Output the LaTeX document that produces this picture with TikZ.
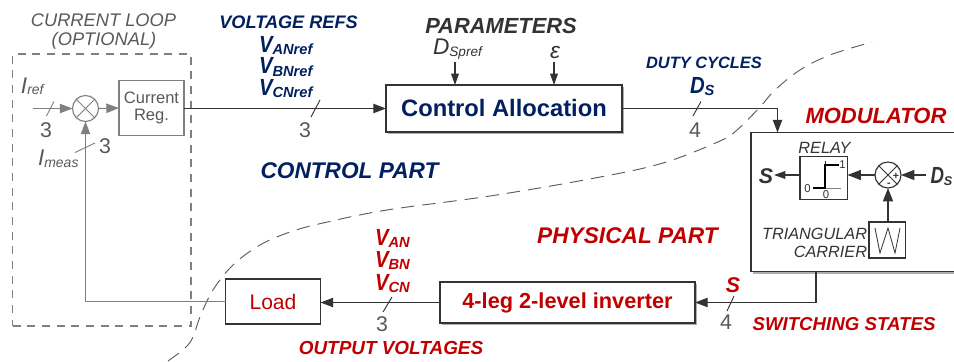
\documentclass[tikz,border=0pt]{standalone}
\usepackage{fontspec}
\usepackage{graphicx}
\setmainfont{Liberation Sans}
\usetikzlibrary{arrows.meta,shadows}
\definecolor{navy}{HTML}{002060}
\definecolor{dred}{HTML}{C00000}
\definecolor{loopgray}{HTML}{808080}
\definecolor{dark}{HTML}{333333}
\definecolor{midtext}{HTML}{595959}
\newdimen\px \px=0.75pt
\newcommand{\fs}[1]{\fontsize{#1pt}{#1pt}\selectfont}
\newcommand{\VS}[2]{\scalebox{.87}[1]{\fs{17.5}#1}\raisebox{-2.2pt}{\fs{11}#2}}
\tikzset{
  lab/.style={inner sep=0pt,outer sep=0pt,anchor=base},
  tip/.style={-{Triangle[length=9.5pt,width=7pt]}},
  tipsmall/.style={-{Triangle[length=8.5pt,width=5.8pt]}},
  tipmod/.style={-{Triangle[length=10pt,width=7.5pt]}},
  wire/.style={draw=dark,line width=.85pt},
  gwire/.style={draw=loopgray,line width=.85pt},
  tick/.style={line width=.7pt},
  blockbox/.style={draw=dark,fill=white,line width=.9pt,inner sep=0pt,outer sep=0pt,align=center},
  shadowbox/.style={blockbox,line width=1.1pt,drop shadow={shadow xshift=1.5pt,shadow yshift=-1.5pt,fill=black!45,opacity=.7}},
  sumj/.style={circle,draw=#1,fill=white,line width=.85pt,minimum size=26\px,inner sep=0pt,outer sep=0pt,
    path picture={\draw[#1,line width=.7pt]
      (path picture bounding box.north west)--(path picture bounding box.south east)
      (path picture bounding box.north east)--(path picture bounding box.south west);}},
}
\begin{document}
\begin{tikzpicture}[x=0.75pt,y=-0.75pt,>=Triangle]
\useasboundingbox (0,0) rectangle (954,361);
% boundary curve
\draw[dark!80,line width=.7pt,dash pattern=on 10pt off 6pt]
  plot[smooth,tension=.6] coordinates {(168,361)(185,348)(193,337)(200,317)(213,290)(233,265)(260,245)(290,232)(323,223)(387,210)(490,196)(595,178)(663,163)(720,141)(737,130)(760,107)(775,90)(800,70)(830,55)(872,42)};
% current loop frame
\node[draw=loopgray,dash pattern=on 6pt off 5pt,line width=.85pt,minimum width=178.5\px,minimum height=272\px,inner sep=0pt,outer sep=0pt] (frame) at (101.75,190) {};
% blocks
\node[sumj=loopgray] (sum1) at (85.5,108.5) {};
\node[blockbox,draw=loopgray,text=midtext,font=\fs{12.4},minimum width=65\px,minimum height=55\px] (reg) at (151.5,108) {Current\\[1pt]Reg.};
\node[shadowbox,font=\bfseries\fs{17.8},text=navy,minimum width=236\px,minimum height=47\px] (ca) at (504,108.5) {Control Allocation};
\node[shadowbox,minimum width=224\px,minimum height=139\px] (mod) at (863,202) {};
\node[shadowbox,font=\bfseries\fs{16.3},text=dred,minimum width=255\px,minimum height=41\px] (inv) at (567.5,302.5) {4-leg 2-level inverter};
\node[blockbox,font=\fs{15.8},text=dred,minimum width=95\px,minimum height=45\px] (load) at (273,301.5) {Load};
\node[blockbox,line width=.8pt,minimum width=47.5\px,minimum height=43\px] (relay) at (823.75,178) {};
\node[sumj=dark] (sum2) at (888,175) {};
\node[blockbox,line width=.8pt,minimum width=36.5\px,minimum height=36\px] (car) at (887.25,240) {};
% carrier wave and relay curve
\draw[dark,line width=.6pt] (875,228)--(880,253)--(888,228)--(895,253)--(900,228);
\draw[loopgray,line width=.7pt] (813,188)--(841,188);
\draw[dark,line width=.6pt] (825,188)--(825,161);
\draw[black,line width=1.3pt] (813,188)--(825,188)--(825,165)--(839,165);
\node[lab,font=\fs{8.5},text=dark] (r1) at (842.5,168) {1};
\node[lab,font=\fs{8.5},text=dark] (r0a) at (807.5,192) {0};
\node[lab,font=\fs{8.5},text=dark] (r0b) at (826,198) {0};
\node[lab,font=\bfseries\fs{8},text=dark] (plus) at (896,179) {+};
\node[lab,font=\bfseries\fs{8},text=dark] (minus) at (889,186) {-};
% free connector ends
\coordinate (irefin) at (33,108.5);
\coordinate (fbturn) at (85.5,301.5);
\coordinate (dutyturn) at (777.5,108.5);
\coordinate (sdown) at (816,302.5);
\coordinate (pdin) at (455,62);
\coordinate (pein) at (554,62);
\coordinate (dsin) at (926,175);
\coordinate (sout) at (774,175);
% connectors
\draw[gwire,tip] (irefin)--(sum1.west);
\draw[gwire,tip] (sum1.east)--(reg.west);
\draw[gwire,tip] (load.west |- fbturn)--(fbturn)--(sum1.south);
\draw[wire,tip] (reg.east |- ca.west)--(ca.west);
\draw[wire,tip] (ca.east)--(dutyturn)--(dutyturn |- mod.north);
\draw[wire,tip] (sdown |- mod.south)--(sdown)--(inv.east);
\draw[wire,tip] (inv.west)--(load.east |- inv.west);
\draw[wire,tipsmall] (pdin)--(pdin |- ca.north);
\draw[wire,tipsmall] (pein)--(pein |- ca.north);
\draw[wire,tipmod] (dsin)--(sum2.east);
\draw[wire,tipmod] (sum2.west)--(relay.east |- sum2);
\draw[wire,tipsmall] (relay.west |- sout)--(sout);
\draw[wire,tipmod] (car.north -| sum2)--(sum2.south);
% bus ticks
\draw[loopgray,tick] (46.5,116)--(54,101.5);
\draw[loopgray,tick] (75,152.5)--(95,143);
\draw[dark,tick] (311,117)--(320,100);
\draw[dark,tick] (693,116)--(701,101.5);
\draw[dark,tick] (727,311)--(734,296);
\draw[dark,tick] (383,312)--(392,297);
% grey labels
\node[lab,font=\itshape\fs{13.7},text=midtext] (t1) at (103.5,26) {CURRENT LOOP};
\node[lab,font=\itshape\fs{13.7},text=midtext] (t2) at (104,45) {(OPTIONAL)};
\node[lab,anchor=base west,font=\itshape,text=midtext] (iref) at (21,93) {{\fs{17}I}\raisebox{-1pt}{\fs{10.5}ref}};
\node[lab,anchor=base west,font=\itshape,text=midtext] (imeas) at (38,165) {{\fs{17}I}\raisebox{-1.5pt}{\fs{10.5}meas}};
\node[lab,font=\fs{16},text=midtext] (n1) at (46,137) {3};
\node[lab,font=\fs{16},text=midtext] (n2) at (105,153) {3};
\node[lab,font=\fs{16},text=midtext] (n3) at (305,137) {3};
\node[lab,font=\fs{16},text=midtext] (n4) at (695,137) {4};
\node[lab,font=\fs{16},text=midtext] (n5) at (726,329) {4};
\node[lab,font=\fs{16},text=midtext] (n6) at (382,331) {3};
% navy labels
\node[lab,font=\bfseries\itshape\fs{13.6},text=navy] (vr) at (288.5,28) {VOLTAGE REFS};
\node[lab,anchor=base west,font=\bfseries\itshape,text=navy] (va) at (259,52) {\VS{V}{ANref}};
\node[lab,anchor=base west,font=\bfseries\itshape,text=navy] (vb) at (259,73.5) {\VS{V}{BNref}};
\node[lab,anchor=base west,font=\bfseries\itshape,text=navy] (vc) at (259,95) {\VS{V}{CNref}};
\node[lab,font=\bfseries\itshape\fs{17},text=navy] (cp) at (349.5,178) {CONTROL PART};
\node[lab,font=\bfseries\itshape\fs{12.3},text=navy] (dc) at (704,68) {DUTY CYCLES};
\node[lab,anchor=base west,font=\bfseries\itshape,text=navy] (ds) at (690,93) {\VS{D}{S}};
% dark labels
\node[lab,font=\bfseries\itshape\fs{16.4},text=dark] (pm) at (501,33) {PARAMETERS};
\node[lab,anchor=base west,font=\itshape,text=dark] (dsp) at (433,54) {{\fs{17}D}\raisebox{-2.2pt}{\fs{10.2}Spref}};
\node[lab,font=\itshape\fs{17},text=dark] (eps) at (555,58) {ε};
\node[lab,font=\itshape\fs{12.2},text=dark] (rl) at (824.5,153) {RELAY};
\node[lab,anchor=base east,font=\itshape\fs{12.2},text=dark] (tr) at (867,239) {TRIANGULAR};
\node[lab,anchor=base east,font=\itshape\fs{12.2},text=dark] (cr) at (867,257) {CARRIER};
\node[lab,font=\bfseries\itshape\fs{16},text=dark] (so) at (766,183) {S};
\node[lab,anchor=base west,font=\bfseries\itshape,text=dark] (dsi) at (930.5,183) {\scalebox{.8}[1]{\fs{17.5}D}\raisebox{-2.2pt}{\fs{9.5}S}};
% red labels
\node[lab,font=\bfseries\itshape\fs{16.5},text=dred] (ml) at (876,123) {MODULATOR};
\node[lab,font=\bfseries\itshape\fs{17},text=dred] (pp) at (627.5,243) {PHYSICAL PART};
\node[lab,font=\bfseries\itshape\fs{16},text=dred] (sr) at (733,292) {S};
\node[lab,font=\bfseries\itshape\fs{14},text=dred] (ss) at (844,330) {SWITCHING STATES};
\node[lab,anchor=base west,font=\bfseries\itshape,text=dred] (van) at (375,245) {\VS{V}{AN}};
\node[lab,anchor=base west,font=\bfseries\itshape,text=dred] (vbn) at (375,267) {\VS{V}{BN}};
\node[lab,anchor=base west,font=\bfseries\itshape,text=dred] (vcn) at (375,290) {\VS{V}{CN}};
\node[lab,font=\bfseries\itshape\fs{14.2},text=dred] (ov) at (391,354) {OUTPUT VOLTAGES};
\end{tikzpicture}
\end{document}
